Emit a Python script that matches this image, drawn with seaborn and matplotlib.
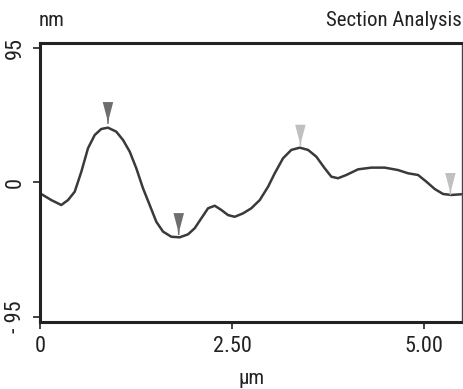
import matplotlib
matplotlib.use("Agg")
import matplotlib.pyplot as plt
from matplotlib import font_manager
from matplotlib.path import Path
import seaborn as sns
import pandas as pd

# ---- data ----
distance_um = [0.00, 0.147, 0.277, 0.365, 0.452, 0.538, 0.625, 0.712, 0.798, 0.885,
               0.993, 1.081, 1.168, 1.254, 1.341, 1.428, 1.514, 1.602, 1.710, 1.819,
               1.927, 2.014, 2.100, 2.188, 2.275, 2.361, 2.448, 2.535, 2.643, 2.751,
               2.861, 2.969, 3.056, 3.164, 3.272, 3.382, 3.490, 3.598, 3.707, 3.793,
               3.880, 3.988, 4.141, 4.314, 4.488, 4.661, 4.792, 4.922, 5.030, 5.139,
               5.247, 5.355, 5.486]
height_nm = [-7.6, -12.4, -15.9, -12.4, -6.5, 7.6, 24.2, 33.5, 37.8, 38.7,
             35.9, 30.0, 21.8, 10.0, -4.1, -15.9, -27.7, -34.7, -38.3, -38.7,
             -36.6, -32.3, -25.3, -18.2, -16.4, -19.4, -23.0, -24.2, -21.8, -18.2,
             -12.4, -3.0, 6.5, 17.1, 23.0, 24.6, 23.0, 18.2, 10.0, 4.1,
             3.0, 5.3, 9.3, 10.5, 10.5, 8.8, 6.5, 5.3, 0.6, -4.6,
             -8.1, -8.8, -8.3]

marker_x = [0.885, 1.806, 3.39, 5.343]
marker_y = [41.3, -37.1, 25.3, -8.8]
marker_group = ["dark", "dark", "light", "light"]

x_ticks = [0, 2.5, 5.0]
x_tick_labels = ["0", "2.50", "5.00"]
y_ticks = [95, 0, -95]
y_tick_labels = ["95", "0", "- 95"]

sns.set_theme(style="white")
avail = {f.name for f in font_manager.fontManager.ttflist}
narrow = None
for cand in ["Liberation Sans Narrow", "DejaVu Sans Condensed", "Roboto Condensed",
             "Open Sans Condensed"]:
    if cand in avail:
        narrow = cand
        break
if narrow:
    fam = narrow
    fs_tick, fs_title, fs_unit = 16, 15, 15
else:
    fam = "Liberation Sans"
    fs_tick, fs_title, fs_unit = 13, 13, 13
plt.rcParams["font.family"] = [fam, "DejaVu Sans"]

fig = plt.figure(figsize=(4.63, 3.89), dpi=100)
ax = fig.add_axes([0.0864, 0.1722, 0.9116, 0.7173])

df = pd.DataFrame({"x": distance_um, "y": height_nm})
sns.lineplot(data=df, x="x", y="y", ax=ax, color="#3a3a3a", linewidth=1.8,
             sort=False, legend=False)

# cursor marker: triangle with stem, base of stem at the data point
verts = [(-0.24, 1.0), (0.24, 1.0), (0.05, 0.28), (0.03, 0.0),
         (-0.03, 0.0), (-0.05, 0.28), (-0.24, 1.0)]
codes = [Path.MOVETO] + [Path.LINETO] * 5 + [Path.CLOSEPOLY]
cursor = Path(verts, codes)

mdf = pd.DataFrame({"x": marker_x, "y": marker_y, "g": marker_group})
sns.scatterplot(data=mdf, x="x", y="y", hue="g",
                palette={"dark": "#6e6e6e", "light": "#c0c0c0"},
                marker=cursor, s=1000, linewidth=0, ax=ax, legend=False, zorder=3)

ax.set_xlim(0, 5.495)
ax.set_ylim(-98.5, 98.5)
ax.set_xticks(x_ticks)
ax.set_xticklabels(x_tick_labels)
ax.set_yticks(y_ticks)
ax.set_yticklabels(y_tick_labels, rotation=90, va="center")
ax.tick_params(axis="both", which="both", direction="out", length=5, width=1.2,
               color="#222222", labelsize=fs_tick, labelcolor="#222222", pad=5,
               left=True, bottom=True)
ax.set_xlabel("")
ax.set_ylabel("")

for side in ["left", "bottom", "top"]:
    ax.spines[side].set_linewidth(2.2)
    ax.spines[side].set_color("#222222")
ax.spines["right"].set_linewidth(1.0)
ax.spines["right"].set_color("#444444")

fig.text(39 / 463, 1 - 11 / 389, "nm", ha="left", va="top", fontsize=fs_title,
         color="#222222")
fig.text(462 / 463, 1 - 11 / 389, "Section Analysis", ha="right", va="top",
         fontsize=fs_title, color="#222222")
fig.text(252 / 463, 1 - 388 / 389, "µm", ha="center", va="bottom", fontsize=fs_unit,
         color="#222222")

fig.savefig("out.png", dpi=100)
